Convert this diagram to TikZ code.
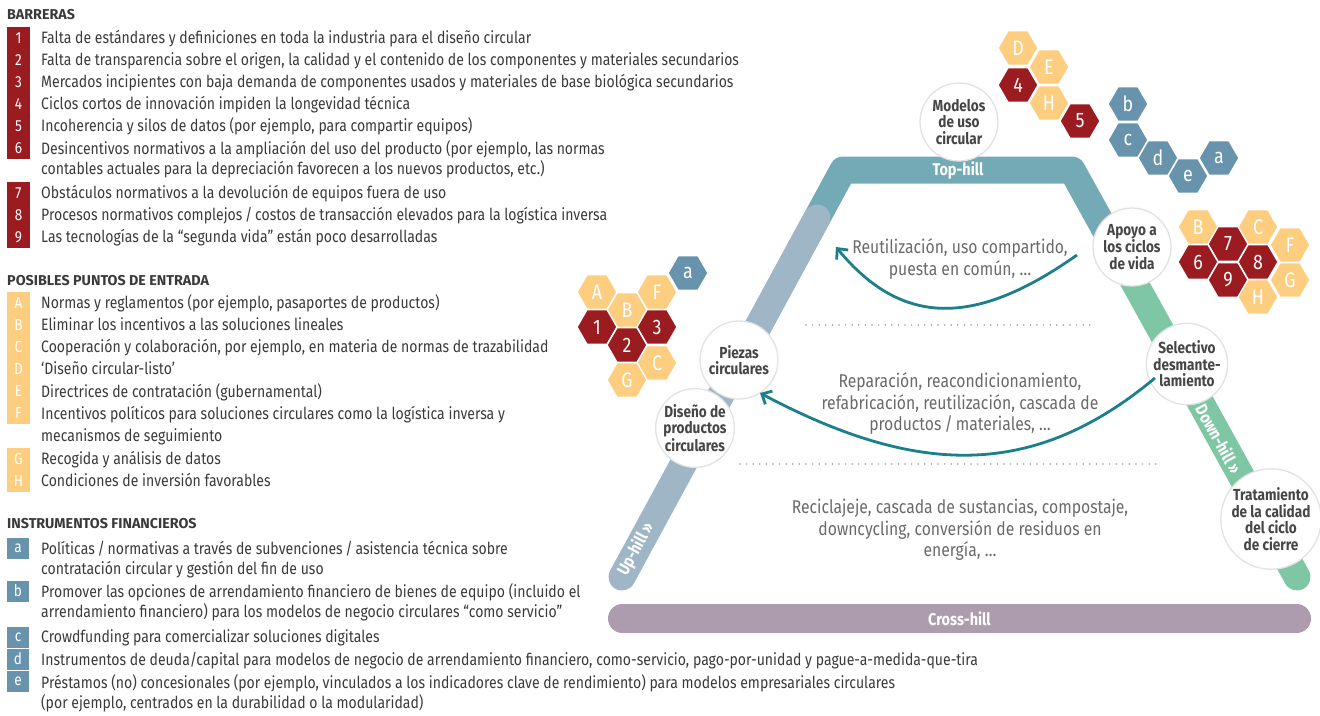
\documentclass[tikz,border=0pt]{standalone}
\usepackage{fontspec}
\setmainfont{Fira Sans}[FakeStretch=0.85]
\newfontfamily\hdrfont{Fira Sans}[FakeStretch=1.0]
\usetikzlibrary{shapes.geometric,arrows.meta}
\definecolor{bred}{HTML}{9B1C20}
\definecolor{byel}{HTML}{FDCD80}
\definecolor{bblue}{HTML}{6793AC}
\definecolor{tophill}{HTML}{74AAB5}
\definecolor{uphill}{HTML}{9EB6C6}
\definecolor{downhill}{HTML}{7FC6A5}
\definecolor{crosshill}{HTML}{AD9BAE}
\definecolor{arrowc}{HTML}{1B7F8C}
\definecolor{txt}{HTML}{3A3A3A}
\definecolor{midtxt}{HTML}{6A6A6A}
\definecolor{circtxt}{HTML}{464646}
\definecolor{circline}{HTML}{E2E2E2}
\definecolor{dotc}{HTML}{9A9A9A}
\begin{document}
\begin{tikzpicture}[x=1pt,y=-1pt,
  lst/.style={anchor=base west, inner sep=0, text=txt, font=\fontsize{16.5}{20.5}\selectfont, align=left},
  hdr/.style={anchor=base west, inner sep=0, text=txt, font=\hdrfont\bfseries\fontsize{14.3}{16}\selectfont},
  mk/.style={fill=#1, text=white, minimum width=23, minimum height=22, inner sep=0, font=\fontsize{16}{16}\selectfont},
  mkf/.style={fill=bblue, text=white, minimum width=22, minimum height=21, inner sep=0, font=\fontsize{16}{16}\selectfont},
  hex/.style={regular polygon, regular polygon sides=6, minimum size=40, inner sep=0, draw=white, line width=1.3, text=white, font=\fontsize{21}{21}\selectfont},
  hr/.style={hex, fill=bred},
  hy/.style={hex, fill=byel},
  hb/.style={hex, fill=bblue},
  circ/.style={circle, fill=white, draw=circline, line width=1.3, minimum size=78, inner sep=0, align=center, text=circtxt, font=\bfseries\fontsize{16}{16.5}\selectfont},
  band/.style={line width=27},
  bandlbl/.style={text=white, inner sep=0, font=\bfseries\fontsize{17}{17}\selectfont},
  midt/.style={align=center, text=midtxt, inner sep=0, font=\fontsize{18.5}{21.5}\selectfont},
  dots/.style={dotc, line width=1.7, line cap=round, dash pattern=on 0pt off 6.6pt},
  arr/.style={arrowc, line width=2.8, -{Straight Barb[length=8pt,width=15pt,line width=2.8pt]}}
]
\useasboundingbox (0,0) rectangle (1320,715);

% ---------------- left lists ----------------
\node[hdr] (hB) at (7,19) {BARRERAS};
\node[mk=bred] (m1) at (18.5,38) {1};
\node[mk=bred] (m2) at (18.5,60) {2};
\node[mk=bred] (m3) at (18.5,82) {3};
\node[mk=bred] (m4) at (18.5,104) {4};
\node[mk=bred] (m5) at (18.5,126) {5};
\node[mk=bred] (m6) at (18.5,148) {6};
\node[mk=bred] (m7) at (18.5,193) {7};
\node[mk=bred] (m8) at (18.5,215) {8};
\node[mk=bred] (m9) at (18.5,237) {9};
\node[lst] (t1) at (41,43) {Falta de estándares y definiciones en toda la industria para el diseño circular};
\node[lst] (t2) at (41,65) {Falta de transparencia sobre el origen, la calidad y el contenido de los componentes y materiales secundarios};
\node[lst] (t3) at (41,87) {Mercados incipientes con baja demanda de componentes usados y materiales de base biológica secundarios};
\node[lst] (t4) at (41,109) {Ciclos cortos de innovación impiden la longevidad técnica};
\node[lst] (t5) at (41,131) {Incoherencia y silos de datos (por ejemplo, para compartir equipos)};
\node[lst] (t6) at (41,174.5) {Desincentivos normativos a la ampliación del uso del producto (por ejemplo, las normas\\contables actuales para la depreciación favorecen a los nuevos productos, etc.)};
\node[lst] (t7) at (41,198) {Obstáculos normativos a la devolución de equipos fuera de uso};
\node[lst] (t8) at (41,220) {Procesos normativos complejos\,/\,costos de transacción elevados para la logística inversa};
\node[lst] (t9) at (41,242) {Las tecnologías de la “segunda vida” están poco desarrolladas};

\node[hdr] (hP) at (7,285) {POSIBLES PUNTOS DE ENTRADA};
\node[mk=byel] (mA) at (18.5,303) {A};
\node[mk=byel] (mB) at (18.5,325) {B};
\node[mk=byel] (mC) at (18.5,347) {C};
\node[mk=byel] (mD) at (18.5,369) {D};
\node[mk=byel] (mE) at (18.5,391) {E};
\node[mk=byel] (mF) at (18.5,413) {F};
\node[mk=byel] (mG) at (18.5,459) {G};
\node[mk=byel] (mH) at (18.5,481) {H};
\node[lst] (tA) at (41,308) {Normas y reglamentos (por ejemplo, pasaportes de productos)};
\node[lst] (tB) at (41,330) {Eliminar los incentivos a las soluciones lineales};
\node[lst] (tC) at (41,352) {Cooperación y colaboración, por ejemplo, en materia de normas de trazabilidad};
\node[lst] (tD) at (41,374) {‘Diseño circular-listo’};
\node[lst] (tE) at (41,397) {Directrices de contratación (gubernamental)};
\node[lst, font=\fontsize{16.5}{22}\selectfont] (tF) at (41,441) {Incentivos políticos para soluciones circulares como la logística inversa y\\mecanismos de seguimiento};
\node[lst] (tG) at (41,464) {Recogida y análisis de datos};
\node[lst] (tH) at (41,486) {Condiciones de inversión favorables};

\node[hdr] (hI) at (7,528) {INSTRUMENTOS FINANCIEROS};
\node[mkf] (ma) at (18,548) {a};
\node[mkf] (mb) at (18,591) {b};
\node[mkf] (mc) at (18,637) {c};
\node[mkf] (md) at (18,659) {d};
\node[mkf] (me) at (18,681) {e};
\node[lst] (ta) at (41,574.5) {Políticas\,/\,normativas a través de subvenciones\,/\,asistencia técnica sobre\\contratación circular y gestión del fin de uso};
\node[lst] (tb) at (41,617.5) {Promover las opciones de arrendamiento financiero de bienes de equipo (incluido el\\arrendamiento financiero) para los modelos de negocio circulares “como servicio”};
\node[lst] (tc) at (41,642) {Crowdfunding para comercializar soluciones digitales};
\node[lst] (td) at (41,665) {Instrumentos de deuda/capital para modelos de negocio de arrendamiento financiero, como-servicio, pago-por-unidad y pague-a-medida-que-tira};
\node[lst] (te) at (41,708.5) {Préstamos (no) concesionales (por ejemplo, vinculados a los indicadores clave de rendimiento) para modelos empresariales circulares\\(por ejemplo, centrados en la durabilidad o la modularidad)};

% ---------------- hill bands ----------------
\coordinate (pz) at (740,360);
\coordinate (tl) at (843,170);
\coordinate (tr) at (1072,170);
\coordinate (jr) at (1118,253);
\coordinate (dend) at (1297,577);
\coordinate (uend) at (622,577);
\coordinate (utop) at (817,218);
\draw[band, tophill, line join=round] (pz) -- (tl) -- (tr) -- (jr);
\draw[band, uphill, line cap=round] (uend) -- (utop);
\draw[band, downhill, line cap=round] (jr) -- (dend);
\node[bandlbl] (ltop) at (958,170) {Top-hill};
\node[bandlbl, rotate=61.5] (lup) at (636,549) {Up-hill »};
\node[bandlbl, rotate=-61.2] (ldown) at (1219,439) {Down-hill »};
\node[fill=crosshill, minimum width=703, minimum height=29, rounded corners=14.5, inner sep=0, text=white, font=\bfseries\fontsize{17}{17}\selectfont] (cross) at (959.5,618.5) {Cross-hill};

% ---------------- middle texts ----------------
\node[midt] (mt1) at (960,259) {Reutilización, uso compartido,\\puesta en común, …};
\draw[dots] (806,325) -- (1096,325);
\node[midt] (mt2) at (960,404) {Reparación, reacondicionamiento,\\refabricación, reutilización, cascada de\\productos\,/\,materiales, …};
\draw[dots] (740,464) -- (1160,464);
\node[midt] (mt3) at (960,530) {Reciclajeje, cascada de sustancias, compostaje,\\downcycling, conversión de residuos en\\energía, …};

% ---------------- circles ----------------
\node[circ] (cmod) at (959,122) {Modelos\\de uso\\circular};
\node[circ] (capo) at (1132,247) {Apoyo a\\los ciclos\\de vida};
\node[circ] (csel) at (1187,364) {Selectivo\\desmante-\\lamiento};
\node[circ] (ctra) at (1271,519) {Tratamiento\\de la calidad\\del ciclo\\de cierre};
\node[circ] (cpie) at (739,360) {Piezas\\circulares};
\node[circ] (cdis) at (695,428) {Diseño de\\productos\\circulares};

% ---------------- arrows ----------------
\coordinate (a1s) at (1077,255);
\coordinate (a1e) at (836,247);
\coordinate (a2s) at (1155,378);
\coordinate (a2e) at (760,393);
\draw[arr] (a1s) .. controls (975,327) and (902,327) .. (a1e);
\draw[arr] (a2s) .. controls (1035,478) and (920,478) .. (a2e);

% ---------------- hexagons top ----------------
\node[hy] (hxD) at (1018,48) {D};
\node[hy] (hxE) at (1049,67) {E};
\node[hr] (hx4) at (1018,85) {4};
\node[hy] (hxH) at (1049,103) {H};
\node[hr] (hx5) at (1080,121) {5};
\node[hb] (hxb) at (1128,104) {b};
\node[hb] (hxc) at (1128,140) {c};
\node[hb] (hxd) at (1158,158) {d};
\node[hb] (hxe) at (1188,176) {e};
\node[hb] (hxa) at (1219,158) {a};
% left cluster
\node[hy] (hlA) at (597,292) {A};
\node[hy] (hlB) at (627,310) {B};
\node[hy] (hlF) at (657,292) {F};
\node[hb] (hla) at (688,273) {a};
\node[hr] (hl1) at (597,327) {1};
\node[hr] (hl3) at (657,327) {3};
\node[hr] (hl2) at (627,345) {2};
\node[hy] (hlC) at (657,363) {C};
\node[hy] (hlG) at (627,380) {G};
% right cluster
\node[hy] (hrB) at (1198,227) {B};
\node[hy] (hrC) at (1258,227) {C};
\node[hr] (hr7) at (1228,244) {7};
\node[hy] (hrF) at (1290,245) {F};
\node[hr] (hr6) at (1198,262) {6};
\node[hr] (hr8) at (1258,262) {8};
\node[hr] (hr9) at (1228,280) {9};
\node[hy] (hrG) at (1290,280) {G};
\node[hy] (hrH) at (1258,297) {H};
\end{tikzpicture}
\end{document}
